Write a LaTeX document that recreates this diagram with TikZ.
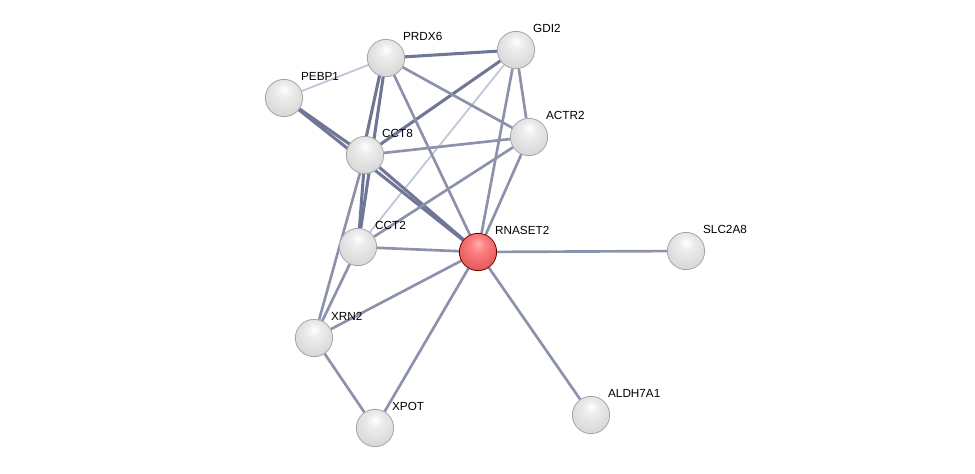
\documentclass[tikz,border=0pt]{standalone}
\usepackage{fontspec}
\setmainfont{Liberation Sans}
\usetikzlibrary{shapes,backgrounds}
\definecolor{edgecol}{RGB}{140,146,172}
\definecolor{edgedark}{RGB}{112,119,150}
\definecolor{edgelight}{RGB}{192,196,214}
\pgfdeclareradialshading{greysphere}{\pgfpoint{0bp}{12bp}}{color(0bp)=(white); color(10bp)=(gray!15); color(28bp)=(gray!30); color(42bp)=(gray!48); color(50bp)=(gray!65)}
\pgfdeclareradialshading{redsphere}{\pgfpoint{0bp}{12bp}}{color(0bp)=(red!30!white); color(10bp)=(red!50!white); color(28bp)=(red!60!white!90!black); color(42bp)=(red!65!white!75!black); color(50bp)=(red!60!black)}
\tikzset{x=0.75pt, y=-0.75pt, font=\fontsize{8.8}{10}\selectfont}
\tikzstyle{protein} = [circle, draw=gray!70, line width=0.6pt, shading=greysphere, minimum size=28pt, inner sep=0pt]
\tikzstyle{query} = [protein, draw=red!45!black, shading=redsphere]
\tikzstyle{lbl} = [label distance=1.5pt, inner sep=1.5pt]
\tikzstyle{link} = [draw=edgecol, line width=2pt]
\tikzstyle{strong} = [draw=edgedark, line width=2.3pt]
\tikzstyle{weak} = [draw=edgelight, line width=1.3pt]

\begin{document}
\begin{tikzpicture}
			\useasboundingbox (0,0) rectangle (975,474);

			\node [protein, label={[lbl]45:PRDX6}] (prdx6) at (386,58) {};
			\node [protein, label={[lbl]45:GDI2}] (gdi2) at (516,50) {};
			\node [protein, label={[lbl]45:PEBP1}] (pebp1) at (284,98) {};
			\node [protein, label={[lbl]45:ACTR2}] (actr2) at (529,137) {};
			\node [protein, label={[lbl]45:CCT8}] (cct8) at (365,155) {};
			\node [protein, label={[lbl]45:CCT2}] (cct2) at (358,247) {};
			\node [query, label={[lbl]45:RNASET2}] (rnaset2) at (478,252) {};
			\node [protein, label={[lbl]45:SLC2A8}] (slc2a8) at (686,251) {};
			\node [protein, label={[lbl]45:XRN2}] (xrn2) at (314,338) {};
			\node [protein, label={[lbl]45:XPOT}] (xpot) at (375,428) {};
			\node [protein, label={[lbl]45:ALDH7A1}] (aldh7a1) at (591,415) {};

			\begin{scope}[on background layer]
			\draw [weak] (pebp1) -- (prdx6);
			\draw [weak] (gdi2) -- (cct2);

			\draw [strong] (prdx6) -- (gdi2);
			\draw [strong] ([xshift=-2pt]prdx6.center) -- ([xshift=-2pt]cct8.center);
			\draw [strong] (prdx6) -- (cct2);
			\draw [strong] (cct8) -- (cct2);
			\draw [strong] (pebp1) -- (cct8);
			\draw [strong] (pebp1) -- (rnaset2);
			\draw [strong] (cct8) -- (rnaset2);
			\draw [strong] (gdi2) -- (cct8);

			\draw [link] (prdx6) -- (actr2);
			\draw [link] (prdx6) -- (rnaset2);
			\draw [link] (gdi2) -- (actr2);
			\draw [link] (gdi2) -- (rnaset2);
			\draw [link] (actr2) -- (cct8);
			\draw [link] (actr2) -- (cct2);
			\draw [link] (actr2) -- (rnaset2);
			\draw [link] (cct2) -- (rnaset2);
			\draw [link] (xrn2) -- (cct8);
			\draw [link] (xrn2) -- (cct2);
			\draw [link] (xrn2) -- (rnaset2);
			\draw [link] (xrn2) -- (xpot);
			\draw [link] (xpot) -- (rnaset2);
			\draw [link] (rnaset2) -- (slc2a8);
			\draw [link] (rnaset2) -- (aldh7a1);
			\end{scope}
		\end{tikzpicture}
\end{document}
